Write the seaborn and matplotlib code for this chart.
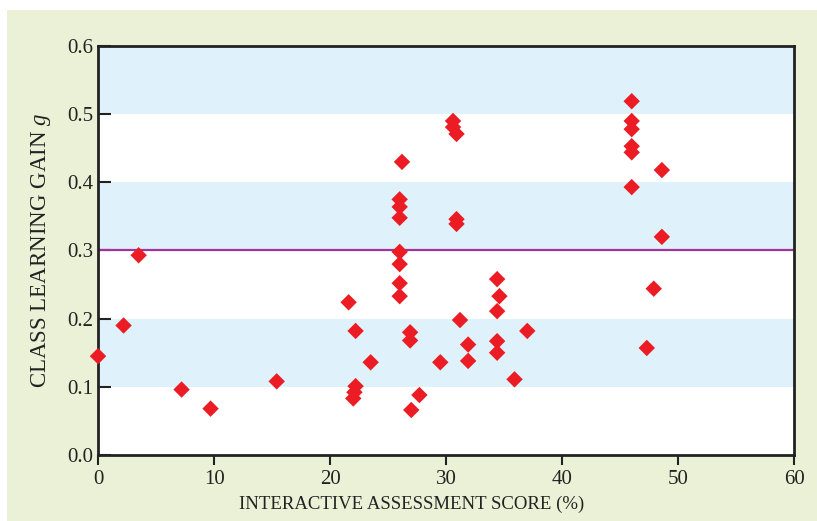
import matplotlib
matplotlib.use("Agg")
import matplotlib.pyplot as plt
import matplotlib.patches as mpatches
import pandas as pd
import seaborn as sns

# interactive assessment score (%) vs class learning gain g
score = [0, 2.2, 3.5, 7.2, 9.7, 15.4, 21.6, 22.2, 22.2, 22.1, 22.0, 23.5,
         26.0, 26.0, 26.0, 26.0, 26.0, 26.0, 26.0, 26.2, 26.9, 26.9, 27.7, 27.0,
         29.5, 30.6, 30.6, 30.9, 30.9, 30.9, 31.2, 31.9, 31.9,
         34.4, 34.6, 34.4, 34.4, 34.4, 37.0, 35.9,
         46.0, 46.0, 46.0, 46.0, 46.0, 46.0, 48.6, 48.6, 47.9, 47.3]
gain = [0.145, 0.19, 0.293, 0.096, 0.068, 0.108, 0.224, 0.182, 0.101, 0.092, 0.083, 0.136,
        0.375, 0.364, 0.348, 0.298, 0.280, 0.252, 0.233, 0.430, 0.180, 0.168, 0.088, 0.066,
        0.136, 0.490, 0.481, 0.471, 0.346, 0.339, 0.198, 0.162, 0.138,
        0.258, 0.233, 0.211, 0.167, 0.150, 0.182, 0.111,
        0.519, 0.490, 0.478, 0.453, 0.444, 0.393, 0.418, 0.320, 0.244, 0.157]

df = pd.DataFrame({"score": score, "gain": gain})

sns.set_style("ticks")
plt.rcParams["font.family"] = ["Liberation Serif", "DejaVu Serif"]
plt.rcParams["mathtext.fontset"] = "custom"
plt.rcParams["mathtext.it"] = "Liberation Serif:italic"
plt.rcParams["mathtext.rm"] = "Liberation Serif"

fig = plt.figure(figsize=(8.17, 5.21), dpi=100, facecolor="white")
# light green panel behind the chart
fig.patches.append(mpatches.Rectangle((7 / 817, 0), 1, 1 - 10 / 521,
                                      transform=fig.transFigure,
                                      facecolor="#ebf1d6", edgecolor="none", zorder=-10))
ax = fig.add_axes([0.120, 0.1267, 0.852, 0.785])
ax.set_facecolor("white")

# shaded horizontal bands
for lo in [0.1, 0.3, 0.5]:
    ax.axhspan(lo, lo + 0.1, color="#dff1fb", lw=0, zorder=0)
ax.axhline(0.3, color="#a3339b", lw=1.6, zorder=1)

sns.scatterplot(data=df, x="score", y="gain", marker="D", s=70, color="#ec1c24",
                edgecolor="none", linewidth=0, ax=ax, zorder=3, clip_on=False)

ax.set_xlim(0, 60)
ax.set_ylim(0, 0.6)
ax.set_xticks(range(0, 61, 10))
ax.set_yticks([0, 0.1, 0.2, 0.3, 0.4, 0.5, 0.6])
ax.set_yticklabels(["0.0", "0.1", "0.2", "0.3", "0.4", "0.5", "0.6"])
ax.tick_params(axis="x", direction="out", length=7, width=1.5, labelsize=15, colors="#222222")
ax.tick_params(axis="y", direction="in", length=9, width=1.5, labelsize=15, colors="#222222")
for sp in ax.spines.values():
    sp.set_linewidth(2)
    sp.set_color("#222222")

ax.set_xlabel("INTERACTIVE ASSESSMENT SCORE (%)", fontsize=13.5, color="#222222", labelpad=5)
ax.xaxis.get_label().set_x(0.451)
ax.set_ylabel("CLASS LEARNING GAIN $\\mathit{g}$", fontsize=16.5, color="#222222", labelpad=10)

fig.savefig("out.png", dpi=100, facecolor=fig.get_facecolor())
